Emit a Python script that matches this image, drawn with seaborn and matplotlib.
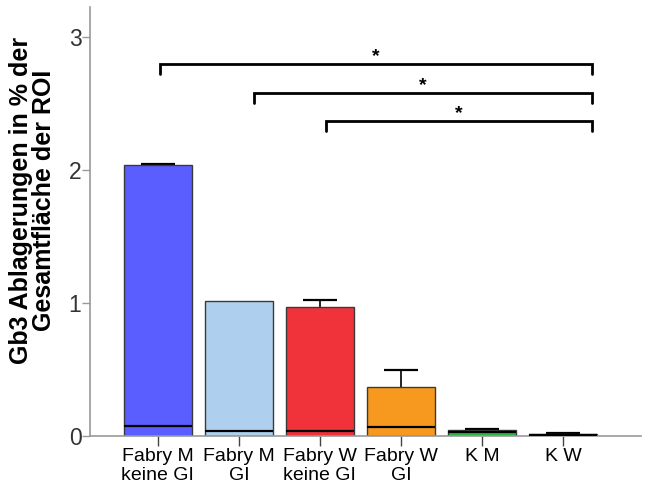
import matplotlib
matplotlib.use("Agg")
import matplotlib.pyplot as plt
import seaborn as sns
import numpy as np

# Gb3 deposits per group (box summary: median, upper quartile, upper whisker)
groups = ["Fabry M\nkeine GI", "Fabry M\nGI", "Fabry W\nkeine GI", "Fabry W\nGI", "K M", "K W"]
q1 = [0.0, 0.0, 0.0, 0.0, 0.0, 0.0]
medians = [0.077, 0.037, 0.040, 0.065, 0.030, 0.008]
q3 = [2.04, 1.015, 0.968, 0.368, 0.045, 0.015]
whisker_hi = [2.042, 1.015, 1.025, 0.50, 0.053, 0.025]
colors = ["#5A5EFF", "#AED0EE", "#F0323A", "#F7991F", "#2DB544", "#1A1A1A"]

# Significance brackets (x from, x to, height)
sig_x0 = [0.03, 1.19, 2.07]
sig_x1 = [5.36, 5.36, 5.36]
sig_y = [2.80, 2.58, 2.37]
sig_text = ["*", "*", "*"]

sns.set_theme(style="white")
plt.rcParams["font.family"] = ["Liberation Sans", "DejaVu Sans"]

fig = plt.figure(figsize=(6.46, 4.84), dpi=100)
ax = fig.add_axes([0.139, 0.0992, 0.853, 0.8863])

box_w = 0.84
sns.barplot(x=groups, y=q3, hue=groups, palette=colors, width=box_w,
            saturation=1, edgecolor="#3a3a3a", linewidth=1.0,
            legend=False, ax=ax, zorder=2)

xs = np.arange(len(groups))
# median lines
ax.hlines(medians, xs - box_w / 2, xs + box_w / 2, colors="black", linewidth=1.6, zorder=3)
# upper whiskers and caps (only where the whisker reaches past the box)
has_whisker = np.array(whisker_hi) > np.array(q3)
ax.vlines(xs[has_whisker], np.array(q3)[has_whisker], np.array(whisker_hi)[has_whisker],
          colors="black", linewidth=1.2, zorder=1)
ax.hlines(np.array(whisker_hi)[has_whisker], xs[has_whisker] - box_w / 4,
          xs[has_whisker] + box_w / 4, colors="black", linewidth=1.6, zorder=1)

# significance brackets
tick_depth = 0.075
for x0, x1, y, t in zip(sig_x0, sig_x1, sig_y, sig_text):
    ax.plot([x0, x0, x1, x1], [y - tick_depth, y, y, y - tick_depth],
            color="black", linewidth=2.0, solid_joinstyle="miter", clip_on=False)
    ax.text((x0 + x1) / 2, y + 0.055, t, ha="center", va="center",
            fontsize=14, fontweight="bold", color="black")

ax.set_xlim(-0.84, 5.96)
ax.set_ylim(0, 3.226)
ax.set_yticks([0, 1, 2, 3])
ax.set_yticklabels(["0", "1", "2", "3"])

for side in ["top", "right"]:
    ax.spines[side].set_visible(False)
for side in ["left", "bottom"]:
    ax.spines[side].set_color("#999999")
    ax.spines[side].set_linewidth(1.2)

ax.tick_params(axis="y", which="major", left=True, length=6, width=1, color="#999999",
               labelsize=16.5, labelcolor="#333333", pad=0)
ax.tick_params(axis="x", which="major", bottom=True, length=7, width=1, color="#444444",
               labelsize=14, labelcolor="black", pad=2)
for lbl in ax.get_xticklabels():
    lbl.set_linespacing(1.15)

ax.set_xlabel("")
ax.set_ylabel("Gb3 Ablagerungen in % der\nGesamtfläche der ROI", fontsize=18,
              fontweight="bold", color="black", linespacing=0.95)
ax.yaxis.set_label_coords(-0.062, 0.55)

fig.savefig("out.png", dpi=100)
